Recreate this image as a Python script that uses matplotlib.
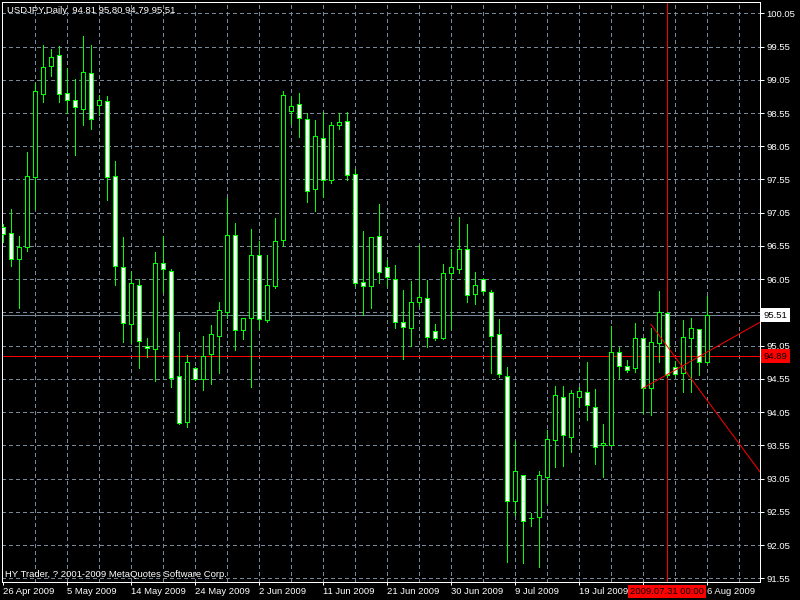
import matplotlib
matplotlib.use("Agg")
import matplotlib.pyplot as plt
import matplotlib.transforms as mtransforms

# daily USDJPY bars (bar index 0 = 26 Apr 2009)
OPEN = [96.83, 96.74, 96.36, 96.54, 97.58, 98.84, 99.26, 99.42, 98.85, 98.75,
        98.61, 99.15, 98.67, 98.73, 97.60, 96.23, 95.37, 95.96, 95.05, 95.00,
        96.29, 96.18, 94.59, 93.90, 94.72, 94.55, 94.92, 95.20, 95.56, 96.71,
        95.28, 95.46, 96.42, 95.43, 95.95, 96.64, 98.58, 98.68, 98.46, 97.40,
        98.17, 97.54, 98.37, 98.43, 97.63, 96.00, 95.94, 96.70, 96.23, 96.06,
        95.40, 95.31, 95.70, 95.76, 95.27, 95.17, 96.14, 96.21, 96.50, 95.82,
        96.05, 95.85, 95.22, 94.60, 92.72, 93.10, 92.45, 92.47, 93.08, 93.63,
        94.27, 93.68, 94.27, 94.35, 94.12, 93.55, 93.56, 94.95, 94.74, 94.71,
        95.17, 94.42, 95.09, 95.54, 94.73, 94.64, 95.16, 95.30, 94.81]
HIGH = [96.88, 97.11, 96.70, 97.96, 99.00, 99.57, 99.51, 99.56, 99.22, 99.06,
        99.71, 99.57, 98.82, 98.80, 97.83, 96.69, 96.17, 96.06, 95.16, 96.46,
        96.70, 96.21, 95.26, 94.91, 94.73, 95.20, 95.36, 95.71, 97.27, 96.89,
        95.47, 96.80, 96.62, 96.41, 96.97, 98.88, 98.79, 98.85, 98.55, 98.44,
        98.56, 98.41, 98.55, 98.56, 97.70, 96.78, 96.69, 97.18, 96.34, 96.26,
        95.89, 96.02, 96.56, 96.04, 95.37, 96.28, 96.51, 96.99, 96.88, 96.16,
        96.06, 95.88, 95.45, 94.73, 93.62, 93.11, 92.53, 93.16, 93.78, 94.45,
        94.44, 94.38, 94.43, 94.80, 94.40, 93.87, 95.34, 95.03, 94.83, 95.39,
        95.17, 95.31, 95.87, 95.56, 94.82, 95.44, 95.47, 95.30, 95.80]
LOW = [96.61, 96.25, 95.61, 96.48, 97.11, 98.71, 99.10, 98.71, 98.55, 97.92,
       98.37, 98.31, 98.52, 97.24, 95.96, 95.11, 95.09, 94.72, 94.88, 94.52,
       95.85, 94.43, 93.87, 93.82, 94.54, 94.39, 94.48, 94.64, 95.46, 94.98,
       95.15, 94.43, 95.30, 95.40, 95.92, 96.55, 98.38, 98.19, 97.21, 97.07,
       97.28, 97.49, 98.31, 97.54, 95.95, 95.51, 95.61, 95.99, 95.94, 95.32,
       94.85, 95.05, 95.64, 95.03, 95.14, 95.15, 95.30, 96.15, 95.70, 95.68,
       95.82, 94.64, 94.58, 91.79, 92.50, 91.78, 92.34, 91.72, 92.69, 93.23,
       93.24, 93.45, 94.13, 93.93, 93.27, 93.08, 93.55, 94.57, 94.66, 94.66,
       94.03, 94.00, 94.80, 94.58, 94.60, 94.36, 94.36, 94.61, 94.79]
CLOSE = [96.73, 96.35, 96.53, 97.60, 98.88, 99.24, 99.40, 98.84, 98.74, 98.64,
         99.17, 98.46, 98.75, 97.58, 96.25, 95.39, 95.99, 95.12, 95.01, 96.30,
         96.20, 94.57, 93.88, 94.80, 94.55, 94.89, 95.22, 95.58, 96.71, 95.28,
         95.46, 96.41, 95.45, 95.96, 96.62, 98.82, 98.65, 98.47, 97.38, 98.21,
         97.54, 98.37, 98.41, 97.61, 95.99, 95.95, 96.68, 96.16, 96.08, 95.41,
         95.33, 95.70, 95.78, 95.18, 95.16, 96.14, 96.23, 96.50, 95.81, 95.96,
         95.87, 95.20, 94.62, 92.71, 93.16, 92.41, 92.45, 93.10, 93.64, 94.30,
         93.70, 94.33, 94.37, 94.15, 93.53, 93.58, 94.95, 94.75, 94.69, 95.17,
         94.41, 95.10, 95.55, 94.61, 94.62, 95.18, 95.31, 94.80, 95.51]

# the 28 Jul label sits under the red time box in the screenshot, so it stays blank
DATE_TICKS = [0, 8, 16, 24, 32, 40, 48, 56, 64, 72, 80, 88]
DATE_LABELS = ["26 Apr 2009", "5 May 2009", "14 May 2009", "24 May 2009",
               "2 Jun 2009", "11 Jun 2009", "21 Jun 2009", "30 Jun 2009",
               "9 Jul 2009", "19 Jul 2009", "", "6 Aug 2009"]
PRICE_LEVELS = [91.55, 92.05, 92.55, 93.05, 93.55, 94.05, 94.55, 95.05, 95.55,
                96.05, 96.55, 97.05, 97.55, 98.05, 98.55, 99.05, 99.55, 100.05]
# 95.55 is covered by the bid box
PRICE_LABELS = ["91.55", "92.05", "92.55", "93.05", "93.55", "94.05", "94.55",
                "95.05", "", "96.05", "96.55", "97.05", "97.55", "98.05",
                "98.55", "99.05", "99.55", "100.05"]

HEADER = "USDJPY,Daily  94.81 95.80 94.79 95.51"
COPYRIGHT = "HY Trader, ? 2001-2009 MetaQuotes Software Corp."
BID = 95.51
HLINE = 94.89
VLINE_BAR = 83
VLINE_LABEL = "2009.07.31 00:00"
TREND_UP = [(80, 94.41), (87, 94.885)]
TREND_DOWN = [(81, 95.37), (88, 94.23)]

PX = 0.72            # one pixel in points at dpi 100
LIME = "#00ff00"
GRID = "#778899"
FS = 6.8
plt.rcParams['font.family'] = ['Liberation Sans', 'DejaVu Sans']

fig = plt.figure(figsize=(8, 6), dpi=100, facecolor="black")
ax = fig.add_axes([2 / 800, 18 / 600, 758 / 800, 580 / 600], facecolor="black")
ax.set_xlim(-0.125, 94.625)
ax.set_ylim(91.494, 100.22)

# grid
for p in PRICE_LEVELS:
    ax.axhline(p, color=GRID, lw=PX, ls=(0, (3, 3)), zorder=1, antialiased=False)
for b in range(4, 96, 4):
    ax.axvline(b, color=GRID, lw=PX, ls=(0, (3, 3)), zorder=1, antialiased=False)

# bid line and user objects
ax.axhline(BID, color=GRID, lw=PX, zorder=2, antialiased=False)
ax.axhline(HLINE, color="red", lw=PX, zorder=2)
ax.axvline(VLINE_BAR, color="red", lw=PX, zorder=2, antialiased=False)
x_end = ax.get_xlim()[1]
for (x1, y1), (x2, y2) in (TREND_UP, TREND_DOWN):
    slope = (y2 - y1) / (x2 - x1)
    ax.plot([x1, x_end], [y1, y1 + slope * (x_end - x1)], color="red", lw=PX,
            zorder=5)

# candles
xs = list(range(len(OPEN)))
ax.vlines(xs, LOW, HIGH, color=LIME, lw=PX, zorder=3, antialiased=False)
bottoms = [min(o, c) for o, c in zip(OPEN, CLOSE)]
heights = [abs(c - o) for o, c in zip(OPEN, CLOSE)]
faces = ["black" if c > o else "white" for o, c in zip(OPEN, CLOSE)]
ax.bar(xs, heights, width=0.5, bottom=bottoms, color=faces, edgecolor=LIME,
       linewidth=PX, zorder=4, antialiased=False)

# frame + axes
for s in ax.spines.values():
    s.set_color("white")
    s.set_linewidth(PX)
ax.yaxis.tick_right()
ax.set_yticks(PRICE_LEVELS)
ax.set_yticklabels(PRICE_LABELS)
ax.set_xticks(DATE_TICKS)
ax.set_xticklabels(DATE_LABELS)
for lbl in ax.get_xticklabels():
    lbl.set_ha("left")
ax.tick_params(axis="y", colors="white", labelsize=FS, length=3, width=PX, pad=1.5)
ax.tick_params(axis="x", colors="white", labelsize=FS, length=2.2, width=PX, pad=1.5)

# price labels on the scale
ytrans = mtransforms.blended_transform_factory(ax.transAxes, ax.transData)
ax.text(1.0045, BID, f"{BID:.2f}", transform=ytrans, ha="left", va="center",
        fontsize=FS, color="black", clip_on=False, zorder=10,
        bbox=dict(boxstyle="square,pad=0.25", fc="white", ec="none"))
ax.text(1.0045, HLINE, f"{HLINE:.2f}", transform=ytrans, ha="left", va="center",
        fontsize=FS, color="black", clip_on=False, zorder=10,
        bbox=dict(boxstyle="square,pad=0.25", fc="red", ec="none"))
xtrans = mtransforms.blended_transform_factory(ax.transData, ax.transAxes)
ax.text(VLINE_BAR, -0.0165, VLINE_LABEL, transform=xtrans, ha="center", va="center",
        fontsize=FS, color="black", clip_on=False, zorder=10,
        bbox=dict(boxstyle="square,pad=0.2", fc="red", ec="none"))

fig.text(7 / 800, 1 - 10.7 / 600, HEADER, color="white", fontsize=FS, va="center")
fig.text(5 / 800, 1 - 574.5 / 600, COPYRIGHT, color="white", fontsize=FS, va="center")

fig.savefig("out.png", dpi=100, facecolor="black")
